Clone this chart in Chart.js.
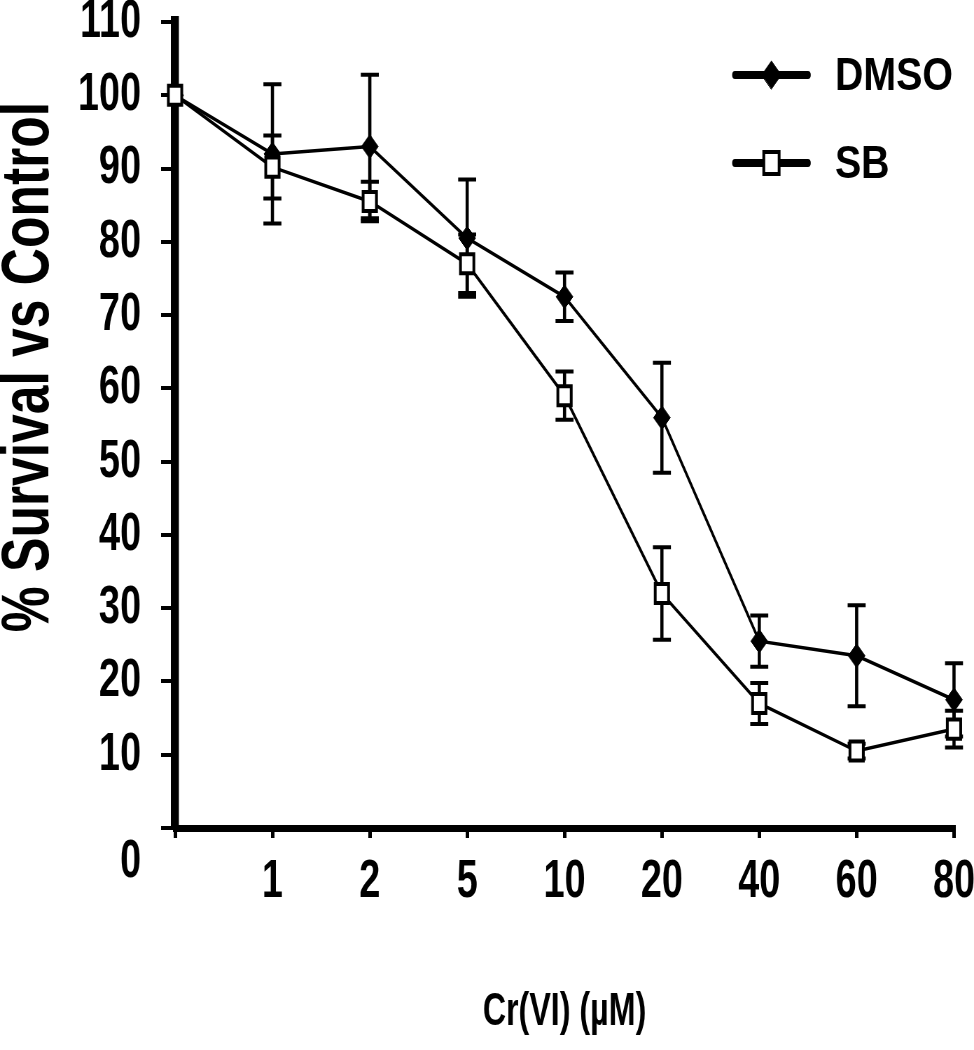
<!DOCTYPE html>
<html>
<head>
<meta charset="utf-8">
<script src="https://cdn.jsdelivr.net/npm/chart.js@4"></script>
<style>
  html, body { margin: 0; padding: 0; background: #fff; }
  canvas { display: block; }
</style>
</head>
<body>
<canvas id="survivalChart"></canvas>
<script>
// Cr(VI) doses in µM; the control (0) sits on the y axis and has no label
const doseLabels = ['', '1', '2', '5', '10', '20', '40', '60', '80'];

// % survival vs control and the error bar half-lengths
const dmsoValues = [100, 92, 93, 80.5, 72.5, 56, 25.5, 23.5, 17.5];
const dmsoErrors = [0, 9.5, 9.8, 8, 3.3, 7.5, 3.5, 6.9, 5];
const sbValues = [100, 90.2, 85.5, 77, 59, 32, 17, 10.5, 13.5];
const sbErrors = [0, 4.3, 2.7, 4, 3.3, 6.3, 2.8, 1, 2.5];

const yMin = 0;
const yMax = 110;
const yStep = 10;

const FONT = "'Liberation Sans', Arial, sans-serif";

// the original figure is squeezed sideways (tall narrow text, tall squares),
// so the chart is drawn wider and the canvas is shown at 974px
const SQUISH = 0.7;
const W = 974, H = 1050;
const sx = (v) => v / SQUISH;   // horizontal screen px -> canvas px

Chart.defaults.font.family = FONT;
Chart.defaults.font.weight = 'bold';
Chart.defaults.color = '#000';

// draws the vertical error bars under the lines and markers
const errorBars = {
    id: 'errorBars',
    beforeDatasetsDraw(chart) {
        const ctx = chart.ctx;
        const yScale = chart.scales.y;
        const cap = sx(9);
        ctx.save();
        ctx.strokeStyle = '#000';
        chart.data.datasets.forEach((ds, i) => {
            const meta = chart.getDatasetMeta(i);
            meta.data.forEach((pt, j) => {
                const err = ds.errors[j];
                if (!err) return;
                const top = yScale.getPixelForValue(ds.data[j] + err);
                const bottom = yScale.getPixelForValue(ds.data[j] - err);
                ctx.lineWidth = sx(3.2);
                ctx.beginPath();
                ctx.moveTo(pt.x, top);
                ctx.lineTo(pt.x, bottom);
                ctx.stroke();
                ctx.lineWidth = 4;
                ctx.beginPath();
                ctx.moveTo(pt.x - cap, top);
                ctx.lineTo(pt.x + cap, top);
                ctx.moveTo(pt.x - cap, bottom);
                ctx.lineTo(pt.x + cap, bottom);
                ctx.stroke();
            });
        });
        ctx.restore();
    }
};

// legend inside the top right corner of the plot, plus the y axis title
const extras = {
    id: 'extras',
    afterDraw(chart) {
        const ctx = chart.ctx;
        const area = chart.chartArea;

        // legend
        const lineStart = area.right - sx(219);
        const lineEnd = area.right - sx(146);
        const textX = area.right - sx(119);
        const rows = [area.top + 53, area.top + 141];
        chart.data.datasets.forEach((ds, i) => {
            const y = rows[i];
            ctx.save();
            ctx.strokeStyle = '#000';
            ctx.lineWidth = 8;
            ctx.lineCap = 'round';
            ctx.beginPath();
            ctx.moveTo(lineStart, y);
            ctx.lineTo(lineEnd, y);
            ctx.stroke();
            ctx.fillStyle = ds.pointBackgroundColor;
            ctx.strokeStyle = ds.pointBorderColor;
            ctx.lineWidth = ds.pointBorderWidth;
            Chart.helpers.drawPoint(ctx, {
                pointStyle: ds.pointStyle,
                radius: ds.pointRadius + 2,
                rotation: 0,
                borderWidth: ds.pointBorderWidth
            }, (lineStart + lineEnd) / 2, y);
            ctx.translate(textX, y);
            ctx.scale(1.22, 1);
            ctx.fillStyle = '#000';
            ctx.font = 'bold 46px ' + FONT;
            ctx.textAlign = 'left';
            ctx.textBaseline = 'middle';
            ctx.fillText(ds.label, 0, 2);
            ctx.restore();
        });

        // y axis title, tall and narrow like the original
        ctx.save();
        ctx.translate(sx(30), (area.top + area.bottom) / 2 - 58);
        ctx.rotate(-Math.PI / 2);
        ctx.scale(0.77, 1 / SQUISH);
        ctx.fillStyle = '#000';
        ctx.font = 'bold 67px ' + FONT;
        ctx.textAlign = 'center';
        ctx.textBaseline = 'middle';
        ctx.fillText('% Survival vs Control', 0, 0);
        ctx.restore();
    }
};

const canvas = document.getElementById('survivalChart');
canvas.width = Math.round(sx(W));
canvas.height = H;
canvas.style.width = W + 'px';
canvas.style.height = H + 'px';

new Chart(canvas, {
    type: 'line',
    data: {
        labels: doseLabels,
        datasets: [
            {
                label: 'DMSO',
                data: dmsoValues,
                errors: dmsoErrors,
                order: 1,
                borderColor: '#000',
                borderWidth: 3.5,
                pointStyle: 'rectRot',
                pointRadius: 12,
                pointBackgroundColor: '#000',
                pointBorderColor: '#000',
                pointBorderWidth: 1,
                tension: 0,
                clip: false
            },
            {
                label: 'SB',
                data: sbValues,
                errors: sbErrors,
                order: 0,
                borderColor: '#000',
                borderWidth: 3.5,
                pointStyle: 'rect',
                pointRadius: 13.5,
                pointBackgroundColor: '#fff',
                pointBorderColor: '#000',
                pointBorderWidth: 4,
                tension: 0,
                clip: false
            }
        ]
    },
    options: {
        responsive: false,
        animation: false,
        devicePixelRatio: 1,
        layout: {
            padding: { top: 22, right: sx(20), left: 0, bottom: 0 }
        },
        plugins: {
            legend: { display: false },
            tooltip: { enabled: false }
        },
        scales: {
            x: {
                offset: false,
                grid: {
                    drawOnChartArea: false,
                    drawTicks: true,
                    tickLength: 10,
                    lineWidth: sx(3.5),
                    color: '#000',
                    offset: false
                },
                border: { display: true, color: '#000', width: 7 },
                ticks: {
                    color: '#000',
                    padding: 12,
                    maxRotation: 0,
                    autoSkip: false,
                    font: { size: 54, weight: 'bold' }
                },
                title: {
                    display: true,
                    text: 'Cr(VI) (µM)',
                    color: '#000',
                    font: { size: 46, weight: 'bold' },
                    padding: { top: 0, bottom: 10 }
                },
                afterFit: (scale) => {
                    scale.height = 222;
                    // let the "80" label hang past the plot edge like the original
                    scale.paddingRight = 0;
                }
            },
            y: {
                min: yMin,
                max: yMax,
                grid: {
                    drawOnChartArea: false,
                    drawTicks: true,
                    tickLength: sx(14),
                    lineWidth: 4,
                    color: '#000'
                },
                border: { display: true, color: '#000', width: sx(8) },
                ticks: {
                    stepSize: yStep,
                    autoSkip: false,
                    color: '#000',
                    padding: sx(20),
                    font: { size: 54, weight: 'bold', lineHeight: 0.63 },
                    // the 0 label sits a line below its tick in the original
                    callback: (v) => v === 0 ? ['', '', '0'] : String(v)
                },
                afterFit: (scale) => {
                    scale.width = sx(175);
                    scale.paddingTop = 0;
                }
            }
        }
    },
    plugins: [errorBars, extras]
});
</script>
</body>
</html>
